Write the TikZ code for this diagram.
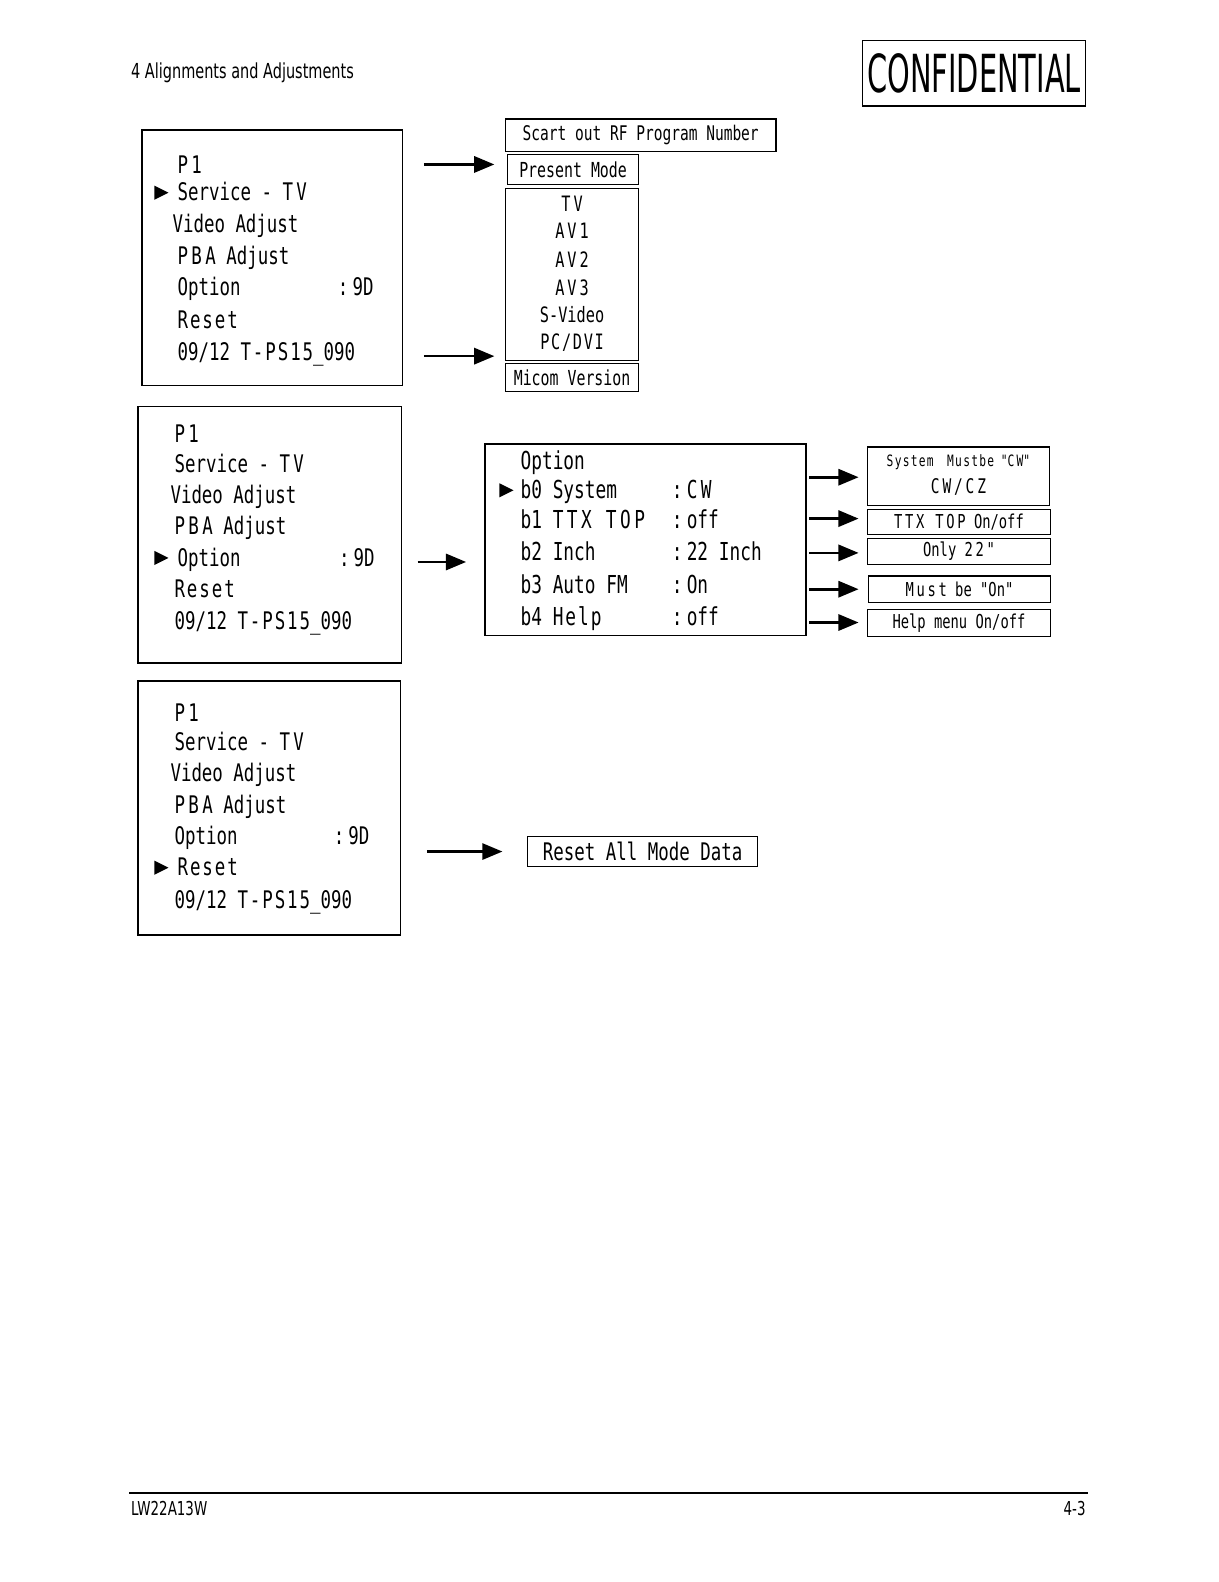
\documentclass[tikz,border=0pt]{standalone}
\usepackage{fontspec}
\usetikzlibrary{arrows.meta}
\newfontfamily\mono[FakeStretch=0.72]{DejaVu Sans Mono}
\newfontfamily\cond[FakeStretch=0.7]{DejaVu Sans}
\newfontfamily\condx[FakeStretch=0.55]{DejaVu Sans}
\newcommand\spc[1]{{\addfontfeature{LetterSpace=14}#1}}
\newcommand\spl[1]{{\addfontfeature{LetterSpace=8}#1}}
\begin{document}
\begin{tikzpicture}[x=1pt,y=-1pt,
  every node/.style={inner sep=0pt,outer sep=0pt},
  menubox/.style={draw,line width=1.6pt,anchor=north west},
  smallbox/.style={draw,line width=1.3pt,minimum width=#1},
  mtxt/.style={anchor=base west,font=\mono\fontsize{24}{24}\selectfont},
  otxt/.style={anchor=base west,font=\mono\fontsize{24.5}{24.5}\selectfont},
  conn/.style={line width=2.6pt,-{Triangle[length=20pt,width=16pt]}},
  marker/.style={fill=black}]
\path[use as bounding box] (0,0) rectangle (1208,1568);

% header and footer
\node[anchor=base west,font=\cond\fontsize{20.5}{20.5}\selectfont] (hdr) at (130,78) {4 Alignments and Adjustments};
\node[draw,line width=1.4pt,minimum width=221pt,minimum height=65pt] (conf) at (965.5,72.5) {};
\node[font=\condx\fontsize{52}{52}\selectfont] (conft) at (965.5,73) {CONFIDENTIAL};
\coordinate (fl) at (128,1480);
\coordinate (fr) at (1078,1480);
\draw[line width=2pt] (fl) -- (fr);
\node[anchor=base west,font=\cond\fontsize{19}{19}\selectfont] (ftl) at (130,1502) {LW22A13W};
\node[anchor=base east,font=\cond\fontsize{19}{19}\selectfont] (ftr) at (1076,1502) {4-3};

% ---------- menu 1 ----------
\node[menubox,minimum width=258pt,minimum height=253pt] (m1) at (141,129) {};
\node[mtxt] (m1a) at (176,172) {\spc{P1}};
\node[mtxt] (m1b) at (176,199) {Service - \spc{TV}};
\node[mtxt] (m1c) at (171,230) {Video Adjust};
\node[mtxt] (m1d) at (176,262) {\spc{PBA} Adjust};
\node[mtxt] (m1e) at (176,293) {Option};
\node[mtxt] (m1f) at (335,293) {:\,9D};
\node[mtxt] (m1g) at (176,326) {\spl{Reset}};
\node[mtxt] (m1h) at (176,357) {09/12 \spl{T-PS15}\_090};
\fill[marker] (153,184) -- (167,191) -- (153,198) -- cycle;

\coordinate (a1s) at (420,163);
\coordinate (a1e) at (490,163);
\coordinate (a2s) at (420,353);
\coordinate (a2e) at (490,353);
\draw[conn] (a1s) -- (a1e);
\draw[conn] (a2s) -- (a2e);

\node[smallbox=268pt,minimum height=32pt,font=\mono\fontsize{20}{20}\selectfont] (scart) at (635,134) {Scart out RF Program Number};
\node[smallbox=130pt,minimum height=30pt,font=\mono\fontsize{20.5}{20.5}\selectfont] (pm) at (568,168) {Present Mode};
\node[smallbox=132pt,minimum height=170pt] (lst) at (567,272) {};
\node[font=\mono\fontsize{21}{21}\selectfont] (l1) at (567,202) {\spc{TV}};
\node[font=\mono\fontsize{21}{21}\selectfont] (l2) at (567,229) {\spc{AV1}};
\node[font=\mono\fontsize{21}{21}\selectfont] (l3) at (567,257) {\spc{AV2}};
\node[font=\mono\fontsize{21}{21}\selectfont] (l4) at (567,285) {\spc{AV3}};
\node[font=\mono\fontsize{21}{21}\selectfont] (l5) at (567,312) {S-Video};
\node[font=\mono\fontsize{21}{21}\selectfont] (l6) at (567,340) {\spl{PC/DVI}};
\node[smallbox=132pt,minimum height=28pt,font=\mono\fontsize{20.5}{20.5}\selectfont] (mv) at (567,374) {Micom Version};

% ---------- menu 2 ----------
\node[menubox,minimum width=261pt,minimum height=254pt] (m2) at (137,403) {};
\node[mtxt] (m2a) at (173,439) {\spc{P1}};
\node[mtxt] (m2b) at (173,468) {Service - \spc{TV}};
\node[mtxt] (m2c) at (169,499) {Video Adjust};
\node[mtxt] (m2d) at (173,530) {\spc{PBA} Adjust};
\node[mtxt] (m2e) at (176,561) {Option};
\node[mtxt] (m2f) at (336,561) {:\,9D};
\node[mtxt] (m2g) at (173,592) {\spl{Reset}};
\node[mtxt] (m2h) at (173,624) {09/12 \spl{T-PS15}\_090};
\fill[marker] (153,546) -- (167,553) -- (153,560) -- cycle;

\coordinate (a3s) at (414,557);
\coordinate (a3e) at (462,557);
\draw[conn] (a3s) -- (a3e);

\node[menubox,minimum width=318pt,minimum height=190pt] (opt) at (481,440) {};
\node[otxt] (o0) at (516,465) {Option};
\node[otxt] (o1) at (516,494) {b0 System};
\node[otxt] (o1v) at (666,494) {:\,\spc{CW}};
\node[otxt] (o2) at (516,524) {b1 \spc{TTX TOP}};
\node[otxt] (o2v) at (666,524) {:\,off};
\node[otxt] (o3) at (516,556) {b2 Inch};
\node[otxt] (o3v) at (666,556) {:\,22 Inch};
\node[otxt] (o4) at (516,588) {b3 Auto FM};
\node[otxt] (o4v) at (666,588) {:\,On};
\node[otxt] (o5) at (516,620) {b4 \spl{Help}};
\node[otxt] (o5v) at (666,620) {:\,off};
\fill[marker] (495,479) -- (509,486) -- (495,493) -- cycle;

\foreach \i/\yy in {1/473,2/514,3/548,4/584,5/617}{
  \coordinate (b\i s) at (802,\yy);
  \coordinate (b\i e) at (851,\yy);
  \draw[conn] (b\i s) -- (b\i e);
}

\node[smallbox=180pt,minimum height=58pt] (r1) at (950,472) {};
\node[font=\mono\fontsize{15.5}{15.5}\selectfont] (r1a) at (950,458) {\spl{System}\ \ \spl{Mustbe} "\spc{CW}"};
\node[font=\mono\fontsize{20}{20}\selectfont] (r1b) at (950,483) {\spc{CW/CZ}};
\node[smallbox=181pt,minimum height=25pt,font=\mono\fontsize{19}{19}\selectfont] (r2) at (950.5,517.5) {\spc{TTX TOP} On/off};
\node[smallbox=181pt,minimum height=26pt,font=\mono\fontsize{19}{19}\selectfont] (r3) at (950.5,546.5) {Only \spc{22"}};
\node[smallbox=180pt,minimum height=26pt,font=\mono\fontsize{19}{19}\selectfont] (r4) at (951,584) {\spc{Must} be "On"};
\node[smallbox=181pt,minimum height=27pt,font=\mono\fontsize{19}{19}\selectfont] (r5) at (950.5,617.5) {Help menu On/off};

% ---------- menu 3 ----------
\node[menubox,minimum width=260pt,minimum height=252pt] (m3) at (137,675) {};
\node[mtxt] (m3a) at (173,715) {\spc{P1}};
\node[mtxt] (m3b) at (173,744) {Service - \spc{TV}};
\node[mtxt] (m3c) at (169,775) {Video Adjust};
\node[mtxt] (m3d) at (173,806) {\spc{PBA} Adjust};
\node[mtxt] (m3e) at (173,837) {Option};
\node[mtxt] (m3f) at (331,837) {:\,9D};
\node[mtxt] (m3g) at (176,868) {\spl{Reset}};
\node[mtxt] (m3h) at (173,900) {09/12 \spl{T-PS15}\_090};
\fill[marker] (153,853) -- (167,860) -- (153,867) -- cycle;

\coordinate (a4s) at (423,844);
\coordinate (a4e) at (498,844);
\draw[conn] (a4s) -- (a4e);
\node[smallbox=228pt,minimum height=30pt,font=\mono\fontsize{24}{24}\selectfont] (rst) at (637,844) {Reset All Mode Data};
\end{tikzpicture}
\end{document}
